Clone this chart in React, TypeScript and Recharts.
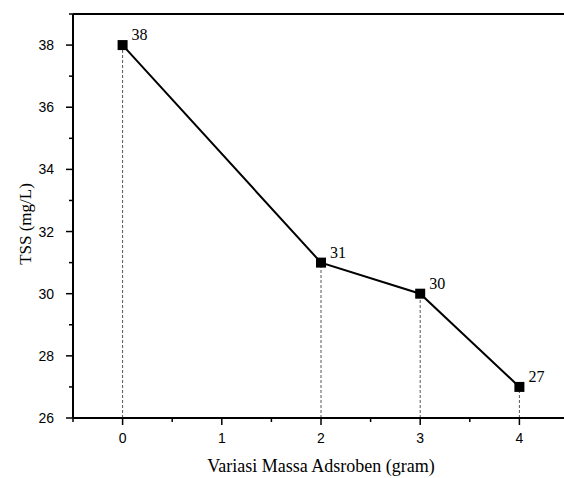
import React from "react";
import {
  LineChart,
  Line,
  XAxis,
  YAxis,
  ReferenceLine,
  LabelList,
} from "recharts";

// massa adsorben (gram) vs TSS (mg/L)
const massa = [0, 2, 3, 4];
const tss = [38, 31, 30, 27];

const xTicks = [-0.5, 0, 0.5, 1, 1.5, 2, 2.5, 3, 3.5, 4, 4.5];
const yTicks = [26, 27, 28, 29, 30, 31, 32, 33, 34, 35, 36, 37, 38, 39];

const data = massa.map((m, i) => ({ massa: m, tss: tss[i] }));

const serif = "'Liberation Serif', 'Times New Roman', serif";
const sans = "'Liberation Sans', Arial, sans-serif";

function XTick(props: any) {
  const { x, y, payload } = props;
  const major = Number.isInteger(payload.value);
  return (
    <g>
      <line x1={x} x2={x} y1={y} y2={y + (major ? 7 : 4)} stroke="#000" strokeWidth={1.5} />
      {major && (
        <text x={x} y={y + 25} textAnchor="middle" fontSize={14} fontFamily={sans} fill="#000">
          {payload.value}
        </text>
      )}
    </g>
  );
}

function YTick(props: any) {
  const { x, y, payload } = props;
  const major = payload.value % 2 === 0;
  return (
    <g>
      <line x1={x} x2={x - (major ? 7 : 4)} y1={y} y2={y} stroke="#000" strokeWidth={1.5} />
      {major && (
        <text x={x - 19} y={y + 5} textAnchor="end" fontSize={14} fontFamily={sans} fill="#000">
          {payload.value}
        </text>
      )}
    </g>
  );
}

function Square(props: any) {
  const { cx, cy } = props;
  if (cx == null || cy == null) return null;
  return <rect x={cx - 5} y={cy - 5} width={10} height={10} fill="#000" />;
}

function PointLabel(props: any) {
  const { x, y, value } = props;
  return (
    <text x={x + 9} y={y - 5} fontSize={16} fontFamily={serif} fill="#000">
      {value}
    </text>
  );
}

export default function App() {
  return (
    <div
      style={{
        position: "fixed",
        left: 0,
        top: 0,
        width: 564,
        height: 478,
        overflow: "hidden",
        background: "#fff",
      }}
    >
      <LineChart
        width={570}
        height={478}
        data={data}
        margin={{ top: 14, right: 1, bottom: 0, left: 0 }}
      >
        <XAxis
          dataKey="massa"
          type="number"
          domain={[-0.5, 4.5]}
          ticks={xTicks}
          interval={0}
          allowDataOverflow
          height={60}
          tickSize={0}
          tickMargin={0}
          tickLine={false}
          tick={<XTick />}
          axisLine={{ stroke: "#000", strokeWidth: 2 }}
          label={{
            value: "Variasi Massa Adsroben (gram)",
            position: "insideBottom",
            offset: 6,
            fontSize: 18,
            fontFamily: serif,
            fill: "#000",
          }}
        />
        <YAxis
          type="number"
          domain={[26, 39]}
          ticks={yTicks}
          interval={0}
          allowDataOverflow
          width={73}
          tickSize={0}
          tickMargin={0}
          tickLine={false}
          tick={<YTick />}
          axisLine={{ stroke: "#000", strokeWidth: 2 }}
          label={{
            value: "TSS (mg/L)",
            content: (p: any) => {
              const vb = p.viewBox;
              const cx = vb.x + 25;
              const cy = vb.y + vb.height / 2 + 8;
              return (
                <text
                  transform={`translate(${cx},${cy}) rotate(-90)`}
                  textAnchor="middle"
                  dominantBaseline="central"
                  fontSize={17}
                  fontFamily={serif}
                  fill="#000"
                >
                  TSS (mg/L)
                </text>
              );
            },
          }}
        />
        <ReferenceLine y={39} stroke="#000" strokeWidth={2} ifOverflow="visible" />
        {data.map((d) => (
          <ReferenceLine
            key={d.massa}
            segment={[
              { x: d.massa, y: 26 },
              { x: d.massa, y: d.tss },
            ]}
            stroke="#555"
            strokeWidth={1}
            strokeDasharray="3 2"
            ifOverflow="visible"
          />
        ))}
        <Line
          dataKey="tss"
          stroke="#000"
          strokeWidth={2}
          dot={<Square />}
          activeDot={false}
          isAnimationActive={false}
        >
          <LabelList dataKey="tss" content={<PointLabel />} />
        </Line>
      </LineChart>
    </div>
  );
}
